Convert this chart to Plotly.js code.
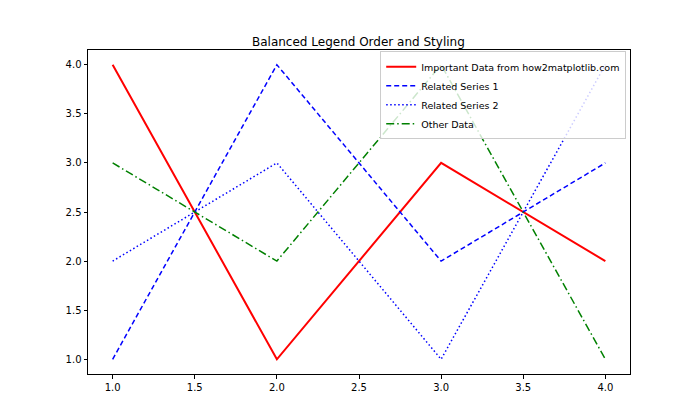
<!DOCTYPE html>
<html>
<head>
<meta charset="utf-8">
<script src="https://cdn.plot.ly/plotly-3.0.1.min.js"></script>
<style>html,body{margin:0;padding:0;background:#fff;} #chart{width:700px;height:420px;}</style>
</head>
<body>
<div id="chart"></div>
<script>
const xValues = [1, 2, 3, 4];
const importantData = [4, 1, 3, 2];
const related1 = [1, 4, 2, 3];
const related2 = [2, 3, 1, 4];
const otherData = [3, 2, 4, 1];
const seriesNames = ["Important Data from how2matplotlib.com", "Related Series 1", "Related Series 2", "Other Data"];
const xTicks = [1.0, 1.5, 2.0, 2.5, 3.0, 3.5, 4.0];
const yTicks = [1.0, 1.5, 2.0, 2.5, 3.0, 3.5, 4.0];

const traces = [
  {x: xValues, y: importantData, name: seriesNames[0], mode: 'lines', line: {color: '#ff0000', width: 2}},
  {x: xValues, y: related1, name: seriesNames[1], mode: 'lines', line: {color: '#0000ff', width: 1.5, dash: '5px,3px'}},
  {x: xValues, y: related2, name: seriesNames[2], mode: 'lines', line: {color: '#0000ff', width: 1.5, dash: '1.5px,2.5px'}},
  {x: xValues, y: otherData, name: seriesNames[3], mode: 'lines', line: {color: '#008000', width: 1.5, dash: '8px,3px,1.5px,3px'}}
];

const axisCommon = {
  showgrid: false, zeroline: false, showline: true, mirror: true,
  linecolor: '#000', linewidth: 1, ticks: 'outside', ticklen: 3.5, tickwidth: 1, tickcolor: '#000',
  tickfont: {family: 'DejaVu Sans', size: 10, color: '#000'}, tickformat: '.1f'
};

const layout = {
  width: 700, height: 420,
  margin: {l: 88, r: 70, t: 50, b: 46},
  paper_bgcolor: '#fff', plot_bgcolor: '#fff',
  title: {text: 'Balanced Legend Order and Styling', font: {family: 'DejaVu Sans', size: 12, color: '#000'},
          x: 0.512, xanchor: 'center', yref: 'paper', y: 1, yanchor: 'bottom', pad: {b: 4}},
  xaxis: Object.assign({}, axisCommon, {range: [0.85, 4.15], tickvals: xTicks}),
  yaxis: Object.assign({}, axisCommon, {range: [0.85, 4.15], tickvals: yTicks}),
  showlegend: true,
  legend: {
    x: 0.993, y: 0.996, xanchor: 'right', yanchor: 'top',
    bgcolor: 'rgba(255,255,255,0.8)', bordercolor: '#cccccc', borderwidth: 1,
    font: {family: 'DejaVu Sans', size: 9.5, color: '#000'},
    tracegroupgap: 0, itemwidth: 30
  }
};

Plotly.newPlot('chart', traces, layout, {displayModeBar: false, staticPlot: true});
</script>
</body>
</html>
